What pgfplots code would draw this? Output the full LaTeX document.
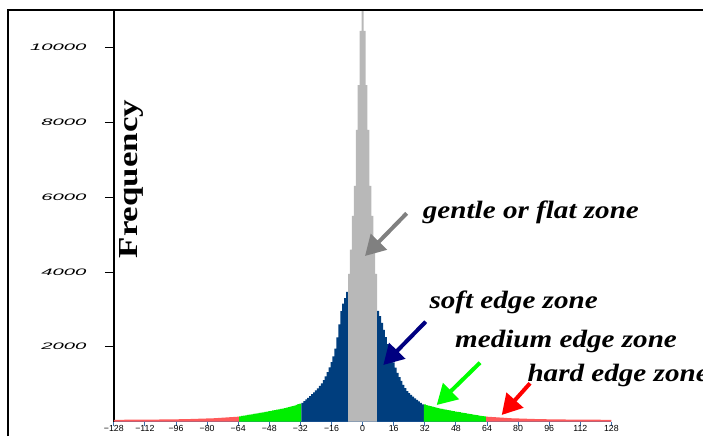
\documentclass[border=0pt]{standalone}
\usepackage{fontspec}
\setmainfont{Liberation Serif}
\newfontfamily\labsf{Liberation Sans}
\usepackage{graphicx}
\usepackage{pgfplots}
\pgfplotsset{compat=1.18}
\usetikzlibrary{arrows.meta}
\definecolor{zgray}{RGB}{184,184,184}
\definecolor{zblue}{RGB}{0,62,126}
\definecolor{zgreen}{RGB}{0,238,0}
\definecolor{zred}{RGB}{255,90,90}
\definecolor{axblue}{RGB}{60,110,170}
\definecolor{arrgray}{RGB}{128,128,128}
\definecolor{arrnavy}{RGB}{0,0,128}
\definecolor{arrgreen}{RGB}{0,255,0}
\definecolor{arrred}{RGB}{255,0,0}

\begin{document}
\begin{tikzpicture}[x=1pt,y=1pt]
\path[use as bounding box] (0,0) rectangle (703,436);
\begin{axis}[
  at={(113.8pt,14.5pt)}, anchor=south west,
  scale only axis, width=497.6pt, height=411.2pt,
  xmin=-128, xmax=128, ymin=0, ymax=11000,
  axis x line*=bottom, axis y line*=left,
  x axis line style={axblue, line width=1.3pt},
  y axis line style={black, line width=1.4pt},
  xtick={-128,-112,-96,-80,-64,-48,-32,-16,0,16,32,48,64,80,96,112,128},
  xticklabels={−128,−112,−96,−80,−64,−48,−32,−16,0,16,32,48,64,80,96,112,128},
  ytick={2000,4000,6000,8000,10000},
  yticklabels={\scalebox{2.15}[1]{2000},\scalebox{2.15}[1]{4000},\scalebox{2.15}[1]{6000},\scalebox{2.15}[1]{8000},\scalebox{2.15}[1]{10000}},
  tick align=outside,
  xtick style={axblue, line width=1pt, /pgfplots/major tick length=4pt},
  ytick style={black, line width=0.8pt, /pgfplots/major tick length=9pt},
  xticklabel style={font=\labsf\fontsize{8.8}{9}\selectfont, inner sep=0pt, yshift=0.5pt},
  yticklabel style={font=\labsf\itshape\fontsize{9.4}{10}\selectfont, inner sep=0pt, xshift=-23pt},
]
% hard edge zone (left)
\addplot[const plot, fill=zred, draw=none] coordinates {
(-128.5,45) (-126.5,46) (-124.5,46) (-122.5,47) (-120.5,47) (-118.5,48) (-116.5,48) (-114.5,49)
(-112.5,50) (-110.5,51) (-108.5,52) (-106.5,53) (-104.5,54) (-102.5,56) (-100.5,57) (-98.5,58)
(-96.5,60) (-94.5,62) (-92.5,64) (-90.5,66) (-88.5,69) (-86.5,72) (-84.5,75) (-82.5,78)
(-80.5,82) (-78.5,86) (-76.5,91) (-74.5,96) (-72.5,102) (-70.5,108) (-68.5,115) (-66.5,122)
(-64.5,130) (-63.5,130)} \closedcycle;
% medium edge zone (left)
\addplot[const plot, fill=zgreen, draw=none] coordinates {
(-63.5,140) (-62.5,150) (-61.5,158) (-60.5,166) (-59.5,175) (-58.5,184) (-57.5,193) (-56.5,202)
(-55.5,211) (-54.5,220) (-53.5,229) (-52.5,238) (-51.5,247) (-50.5,256) (-49.5,265) (-48.5,275)
(-47.5,285) (-46.5,295) (-45.5,305) (-44.5,315) (-43.5,325) (-42.5,335) (-41.5,346) (-40.5,358)
(-39.5,370) (-38.5,383) (-37.5,397) (-36.5,412) (-35.5,428) (-34.5,445) (-33.5,462) (-32.5,480)
(-31.5,480)} \closedcycle;
% soft edge zone (left)
\addplot[const plot, fill=zblue, draw=none] coordinates {
(-31.5,500) (-30.5,545) (-29.5,590) (-28.5,635) (-27.5,680) (-26.5,730) (-25.5,780) (-24.5,830)
(-23.5,885) (-22.5,950) (-21.5,1020) (-20.5,1110) (-19.5,1210) (-18.5,1320) (-17.5,1450) (-16.5,1590)
(-15.5,1740) (-14.5,1950) (-13.5,2250) (-12.5,2600) (-11.5,2950) (-10.5,3150) (-9.5,3300) (-8.5,3470)
(-7.5,3470)} \closedcycle;
% gentle or flat zone
\addplot[const plot, fill=zgray, draw=none] coordinates {
(-7.5,3950) (-6.5,4600) (-5.5,5500) (-4.5,6300) (-3.5,7800) (-2.5,9000) (-1.5,10450) (-0.5,11500)
(0.5,10450) (1.5,9000) (2.5,7800) (3.5,6300) (4.5,5500) (5.5,4600) (6.5,3950) (7.5,3950)} \closedcycle;
% soft edge zone (right)
\addplot[const plot, fill=zblue, draw=none] coordinates {
(7.5,2960) (8.5,2820) (9.5,2640) (10.5,2450) (11.5,2260) (12.5,2070) (13.5,1890) (14.5,1730)
(15.5,1580) (16.5,1440) (17.5,1300) (18.5,1190) (19.5,1090) (20.5,980) (21.5,890) (22.5,815)
(23.5,760) (24.5,710) (25.5,665) (26.5,620) (27.5,580) (28.5,540) (29.5,500) (30.5,460)
(31.5,460)} \closedcycle;
% medium edge zone (right)
\addplot[const plot, fill=zgreen, draw=none] coordinates {
(31.5,455) (32.5,440) (33.5,425) (34.5,410) (35.5,396) (36.5,383) (37.5,370) (38.5,358)
(39.5,346) (40.5,335) (41.5,325) (42.5,315) (43.5,305) (44.5,295) (45.5,285) (46.5,276)
(47.5,267) (48.5,258) (49.5,249) (50.5,240) (51.5,231) (52.5,222) (53.5,213) (54.5,204)
(55.5,195) (56.5,186) (57.5,177) (58.5,168) (59.5,160) (60.5,152) (61.5,145) (62.5,138)
(63.5,138)} \closedcycle;
% hard edge zone (right)
\addplot[const plot, fill=zred, draw=none] coordinates {
(63.5,130) (64.5,122) (66.5,115) (68.5,108) (70.5,102) (72.5,96) (74.5,91) (76.5,86)
(78.5,82) (80.5,78) (82.5,75) (84.5,72) (86.5,69) (88.5,66) (90.5,64) (92.5,62)
(94.5,60) (96.5,58) (98.5,57) (100.5,56) (102.5,54) (104.5,53) (106.5,52) (108.5,51)
(110.5,50) (112.5,49) (114.5,48) (116.5,48) (118.5,47) (120.5,47) (122.5,46) (124.5,46)
(126.5,45) (128.5,45)} \closedcycle;
\end{axis}
% outer frame
\draw[line width=2pt, black] (8.3,0) -- (8.3,426) -- (703,426);
% y label
\node[rotate=90, inner sep=0pt, font=\bfseries\fontsize{27.5}{30}\selectfont] at (131,257) {\scalebox{1.27}[1]{Frequency}};
% annotations
\tikzset{ann/.style={anchor=base west, inner sep=0pt, font=\bfseries\itshape\fontsize{25}{30}\selectfont}}
\node[ann] at (422.7,217) {\scalebox{1.165}[1]{gentle or flat zone}};
\node[ann] at (429.3,127.7) {\scalebox{1.165}[1]{soft edge zone}};
\node[ann] at (455,88.7) {\scalebox{1.165}[1]{medium edge zone}};
\node[ann] at (527.3,54.3) {\scalebox{1.165}[1]{hard edge zone}};
% arrows
\tikzset{zarr/.style={line width=4pt, -{Triangle[length=20pt,width=22pt]}}}
\draw[zarr, arrgray] (406.7,222.7) -- (365,180);
\draw[zarr, arrnavy] (425.7,114.3) -- (383.3,71);
\draw[zarr, arrgreen] (480,73.3) -- (436.7,31);
\draw[zarr, arrred] (530,52.7) -- (501.7,21);
\end{tikzpicture}
\end{document}
